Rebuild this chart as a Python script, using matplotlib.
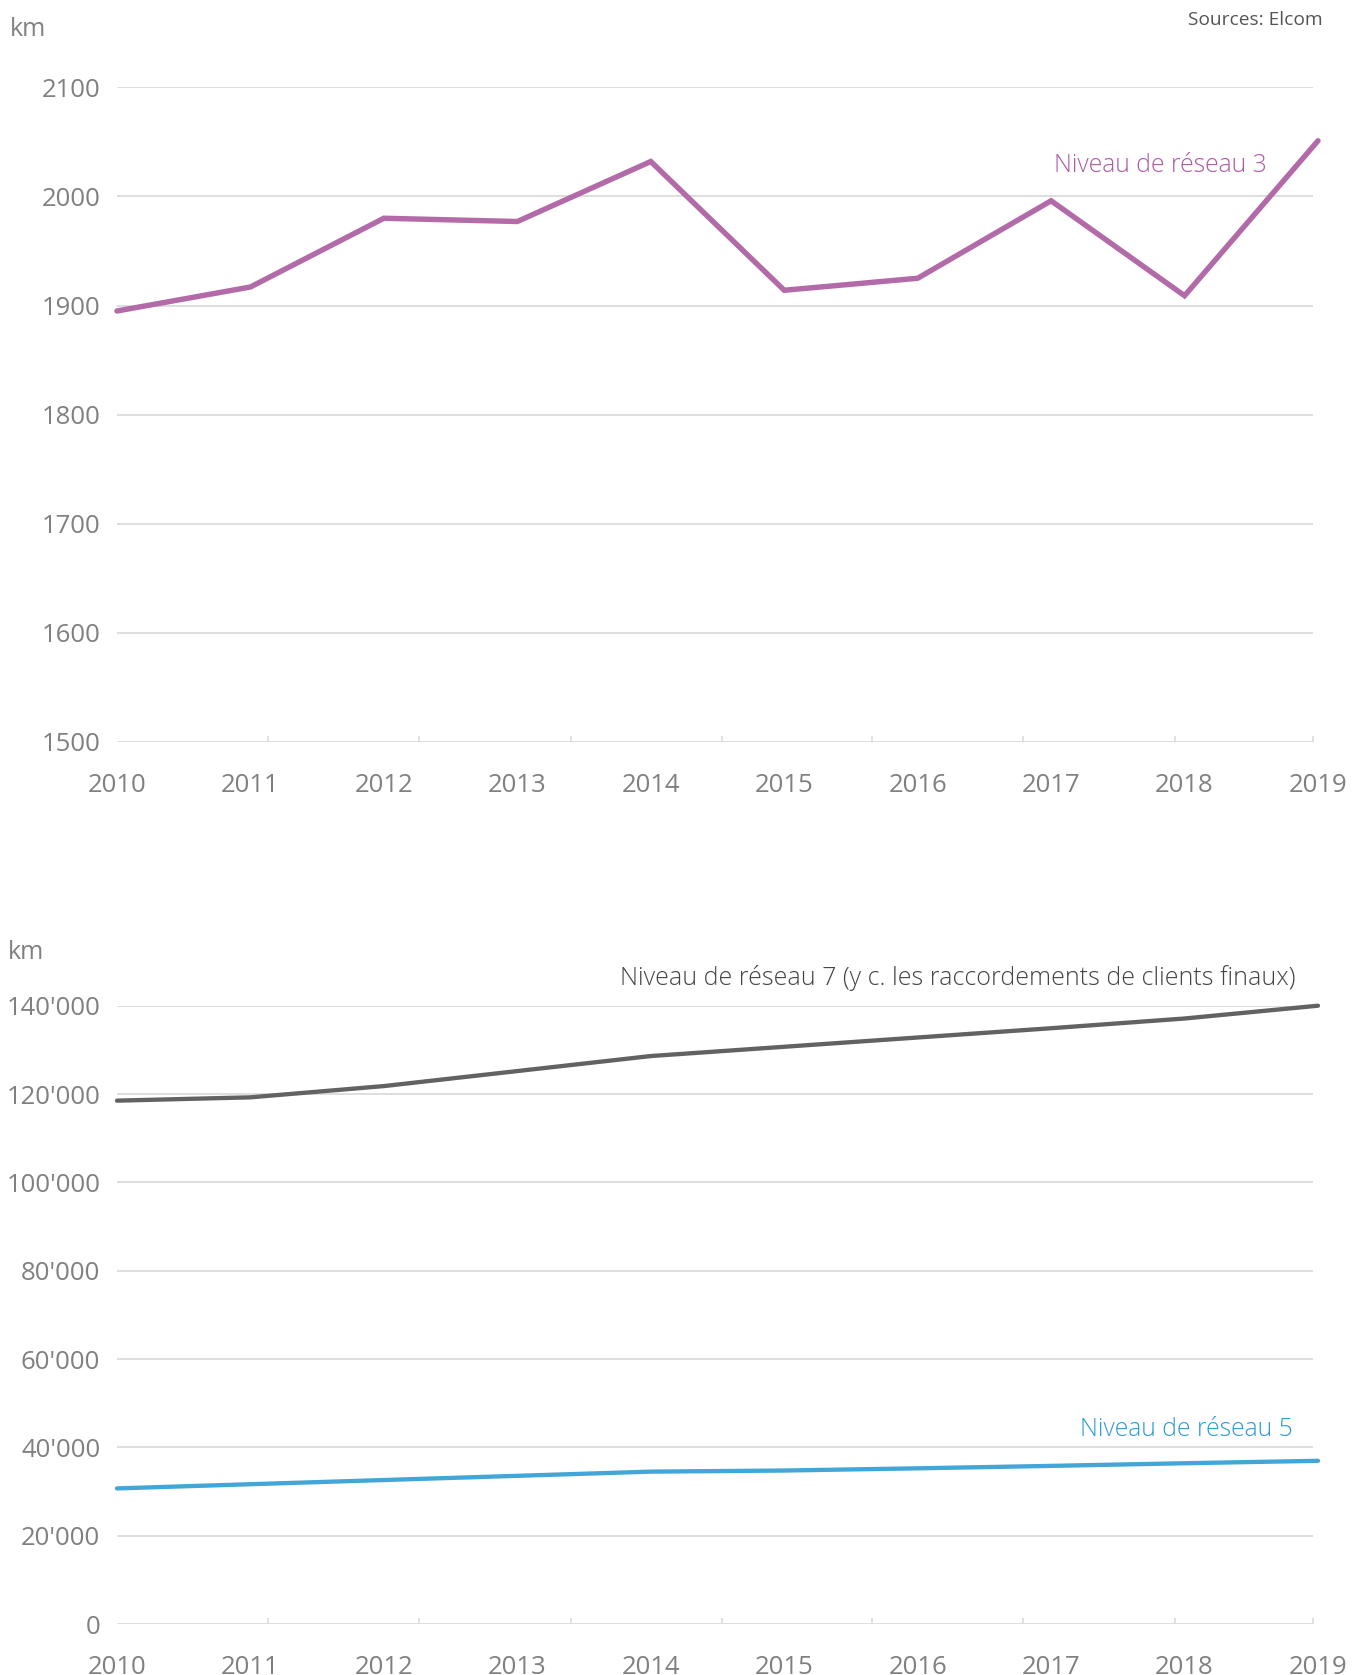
import matplotlib
matplotlib.use("Agg")
import matplotlib.pyplot as plt
import numpy as np

plt.rcParams['font.family'] = ['Open Sans', 'DejaVu Sans']

years = [2010, 2011, 2012, 2013, 2014, 2015, 2016, 2017, 2018, 2019]
year_labels = [str(y) for y in years]

# Top chart: Niveau de réseau 3 (km)
nr3 = [1895, 1917, 1980, 1977, 2032, 1914, 1925, 1996, 1909, 2051]
top_yticks = [1500, 1600, 1700, 1800, 1900, 2000, 2100]

# Bottom chart (km)
nr7 = [118500, 119250, 121800, 125200, 128600, 130700, 132800, 134900, 137100, 140000]
nr5 = [30700, 31650, 32600, 33550, 34500, 34750, 35250, 35800, 36400, 36950]
bot_yticks = [0, 20000, 40000, 60000, 80000, 100000, 120000, 140000]
bot_ylabels = ["0", "20'000", "40'000", "60'000", "80'000", "100'000", "120'000", "140'000"]

label_nr3 = "Niveau de réseau 3"
label_nr7 = "Niveau de réseau 7 (y c. les raccordements de clients finaux)"
label_nr5 = "Niveau de réseau 5"

W, H = 1368, 1675
fig = plt.figure(figsize=(W / 100, H / 100), dpi=100)

GRID = '#dedede'
TICKC = '#808080'
LIGHT = 'light'
x_left, x_right = 117, 1318
grid_end = (1312 - x_left) / (x_right - x_left)
tick_marks = [2010.0, 2011.13, 2012.26, 2013.4, 2014.53, 2015.66, 2016.79, 2017.93, 2018.96]


def make_axes(y_top_px, y_bot_px):
    ax = fig.add_axes([x_left / W, 1 - y_bot_px / H, (x_right - x_left) / W,
                       (y_bot_px - y_top_px) / H])
    for s in ['top', 'right', 'left', 'bottom']:
        ax.spines[s].set_visible(False)
    ax.set_xlim(2010, 2019)
    ax.set_xticks(years)
    ax.set_xticklabels(year_labels)
    ax.tick_params(axis='x', which='major', length=0, pad=22.5, labelsize=18.5,
                   labelcolor=TICKC)
    ax.set_xticks(tick_marks, minor=True)
    ax.tick_params(axis='x', which='minor', length=4, width=1.3, direction='in',
                   color=GRID)
    ax.tick_params(axis='y', length=0, pad=12, labelsize=18.5, labelcolor=TICKC)
    return ax


# ---- Top chart
ax1 = make_axes(87.3, 742)
ax1.set_ylim(1500, 2100)
ax1.set_yticks(top_yticks)
ax1.set_yticklabels([str(v) for v in top_yticks])
for v in top_yticks:
    ax1.axhline(v, xmin=0, xmax=grid_end, color=GRID, lw=1.4, zorder=1)
ax1.plot(years, nr3, color='#B36AA8', lw=3.9, solid_capstyle='round',
         solid_joinstyle='miter', clip_on=False, zorder=3)
ax1.text(1267 / W, 1 - 166 / H, label_nr3, transform=fig.transFigure, ha='right',
         va='center', fontsize=17.8, color='#AE5AA4', fontweight=LIGHT)

fig.text(10 / W, 1 - 30 / H, 'km', ha='left', va='center', fontsize=18, color=TICKC)
fig.text(1323 / W, 1 - 20 / H, 'Sources: Elcom', ha='right', va='center',
         fontsize=13.8, color='#555555')

# ---- Bottom chart
ax2 = make_axes(1005.7, 1624)
ax2.set_ylim(0, 140000)
ax2.set_yticks(bot_yticks)
ax2.set_yticklabels(bot_ylabels)
for v in bot_yticks:
    ax2.axhline(v, xmin=0, xmax=grid_end, color=GRID, lw=1.4, zorder=1)
ax2.plot(years, nr7, color='#626262', lw=3.1, solid_capstyle='round', clip_on=False,
         zorder=3)
ax2.plot(years, nr5, color='#42A6D6', lw=3.1, solid_capstyle='round', clip_on=False,
         zorder=3)
ax2.text(1295 / W, 1 - 978 / H, label_nr7, transform=fig.transFigure, ha='right',
         va='center', fontsize=18, color='#444444', fontweight=LIGHT)
ax2.text(1293 / W, 1 - 1429 / H, label_nr5, transform=fig.transFigure, ha='right',
         va='center', fontsize=17.8, color='#2E9BD6', fontweight=LIGHT)

fig.text(8 / W, 1 - 952 / H, 'km', ha='left', va='center', fontsize=18, color=TICKC)

fig.savefig('out.png', dpi=100, facecolor='white')
